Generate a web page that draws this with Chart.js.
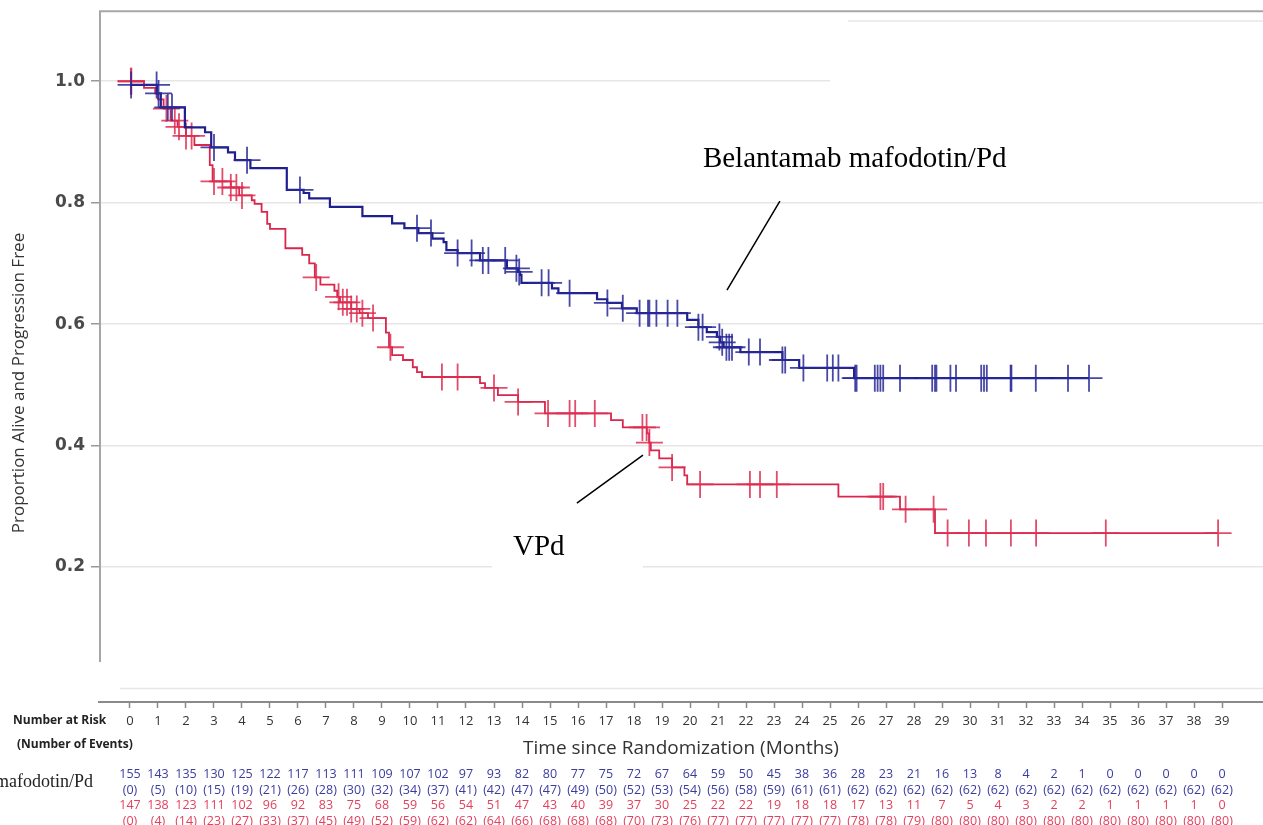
<!DOCTYPE html>
<html>
<head>
<meta charset="utf-8">
<title>Proportion Alive and Progression Free</title>
<script src="https://cdn.jsdelivr.net/npm/chart.js@4.4.1/dist/chart.umd.min.js"></script>
<style>
  html, body { margin: 0; padding: 0; background: #fff; }
  #wrap { width: 1263px; height: 825px; }
</style>
</head>
<body>
<div id="wrap"><canvas id="pfsChart" width="1263" height="825"></canvas></div>
<script>
// Kaplan-Meier steps: month of each step and the proportion after it (last entry = end of follow-up)
const blueStepT = [0, 0.96, 1.1, 1.96, 2.68, 2.9, 3.5, 3.75, 4.3, 5.6, 6.2, 6.4, 7.14, 8.3, 9.36, 9.8,
  10.3, 10.8, 11.2, 11.3, 11.7, 12.5, 13.46, 13.86, 13.93, 13.98, 15.07, 15.3, 16.68, 17.04, 17.57,
  18.1, 19.9, 20.3, 20.6, 20.96, 21.07, 21.2, 21.8, 23.3, 23.9, 25.86, 34.25];
const blueStepS = [0.994, 0.98, 0.957, 0.924, 0.916, 0.891, 0.883, 0.870, 0.857, 0.821, 0.816, 0.807,
  0.793, 0.778, 0.766, 0.758, 0.750, 0.741, 0.735, 0.722, 0.717, 0.705, 0.692, 0.686, 0.681, 0.668,
  0.659, 0.651, 0.641, 0.635, 0.626, 0.618, 0.607, 0.595, 0.587, 0.579, 0.570, 0.562, 0.554, 0.541,
  0.528, 0.511, 0.511];
const blueCensorT = [0.04, 0.95, 1.02, 1.35, 1.5, 3.0, 4.18, 6.07, 10.25, 10.75, 11.7, 12.2, 12.6, 12.8,
  13.4, 13.8, 13.9, 14.7, 14.95, 15.7, 17.05, 17.6, 18.2, 18.5, 18.55, 18.8, 19.2, 19.55, 20.3, 20.45,
  21.05, 21.15, 21.3, 21.4, 21.5, 22.1, 22.5, 23.3, 23.4, 24.05, 24.9, 25.1, 25.3, 25.9, 25.95, 26.6,
  26.7, 26.8, 26.9, 27.5, 28.65, 28.75, 28.8, 29.3, 29.5, 30.4, 30.5, 30.6, 31.45, 31.48, 32.35, 33.5,
  34.25];

const redStepT = [0, 0.5, 0.9, 1.0, 1.2, 1.45, 1.7, 2.0, 2.3, 2.85, 2.95, 3.6, 3.9, 4.35, 4.45, 4.7, 4.9,
  5.0, 5.55, 6.15, 6.4, 6.6, 6.8, 7.3, 7.4, 7.5, 7.9, 8.2, 8.5, 9.14, 9.25, 9.36, 9.75, 10.1, 10.25,
  10.43, 12.5, 12.68, 13.14, 13.86, 14.82, 17.18, 17.6, 18.46, 18.54, 18.6, 18.9, 19.36, 19.8, 19.9,
  25.3, 27.5, 28.75, 38.86];
const redStepS = [1.0, 0.989, 0.980, 0.970, 0.955, 0.935, 0.925, 0.910, 0.895, 0.862, 0.835, 0.825,
  0.812, 0.804, 0.798, 0.785, 0.765, 0.757, 0.725, 0.714, 0.700, 0.677, 0.665, 0.655, 0.645, 0.636,
  0.625, 0.618, 0.610, 0.586, 0.562, 0.549, 0.541, 0.529, 0.521, 0.513, 0.503, 0.495, 0.483, 0.472,
  0.453, 0.442, 0.430, 0.420, 0.405, 0.392, 0.379, 0.364, 0.351, 0.336, 0.316, 0.295, 0.256, 0.256];
const redCensorT = [0.03, 0.05, 1.3, 1.6, 1.75, 2.0, 2.2, 3.0, 3.3, 3.6, 3.8, 4.0, 6.65, 7.45, 7.6, 7.75,
  7.9, 8.1, 8.3, 8.68, 9.3, 11.14, 11.7, 13.0, 13.86, 14.93, 15.7, 15.9, 16.6, 18.3, 18.45, 18.55,
  19.36, 20.36, 22.14, 22.5, 23.1, 26.8, 26.9, 27.7, 28.7, 29.2, 29.96, 30.57, 31.46, 32.36, 34.85,
  38.86];

const monthTicks = [0, 1, 2, 3, 4, 5, 6, 7, 8, 9, 10, 11, 12, 13, 14, 15, 16, 17, 18, 19, 20, 21, 22, 23,
  24, 25, 26, 27, 28, 29, 30, 31, 32, 33, 34, 35, 36, 37, 38, 39];
const yTicks = [0, 0.2, 0.4, 0.6, 0.8, 1.0];

// number at risk / cumulative events at each month tick
const blueAtRisk = [155, 143, 135, 130, 125, 122, 117, 113, 111, 109, 107, 102, 97, 93, 82, 80, 77, 75, 72,
  67, 64, 59, 50, 45, 38, 36, 28, 23, 21, 16, 13, 8, 4, 2, 1, 0, 0, 0, 0, 0];
const blueEvents = [0, 5, 10, 15, 19, 21, 26, 28, 30, 32, 34, 37, 41, 42, 47, 47, 49, 50, 52, 53, 54, 56,
  58, 59, 61, 61, 62, 62, 62, 62, 62, 62, 62, 62, 62, 62, 62, 62, 62, 62];
const redAtRisk = [147, 138, 123, 111, 102, 96, 92, 83, 75, 68, 59, 56, 54, 51, 47, 43, 40, 39, 37, 30, 25,
  22, 22, 19, 18, 18, 17, 13, 11, 7, 5, 4, 3, 2, 2, 1, 1, 1, 1, 0];
const redEvents = [0, 4, 14, 23, 27, 33, 37, 45, 49, 52, 59, 62, 62, 64, 66, 68, 68, 68, 70, 73, 76, 77,
  77, 77, 77, 77, 78, 78, 79, 80, 80, 80, 80, 80, 80, 80, 80, 80, 80, 80];

const BLUE = '#1f1f8e';
const RED = '#d9264d';

// level of a step curve at month t (censor marks sit on the curve)
function levelAt(stepT, stepS, t) {
  let s = stepS[0];
  for (let i = 0; i < stepT.length; i++) {
    if (stepT[i] <= t) s = stepS[i];
  }
  return s;
}

const toPoints = (ts, ss) => ts.map((t, i) => ({ x: t, y: ss[i] }));
const censorPoints = (ts, stepT, stepS) => ts.map(t => ({ x: t, y: levelAt(stepT, stepS, t) }));

const decor = {
  id: 'decor',
  beforeDatasetsDraw(chart) {
    const { ctx, chartArea: area, scales: { x, y } } = chart;
    ctx.save();
    // white patches behind the curve labels, they cut into the gridlines
    ctx.fillStyle = '#ffffff';
    let x0 = x.getPixelForValue(25.0);
    ctx.fillRect(x0, y.getPixelForValue(1.10), area.right - x0, y.getPixelForValue(0.82) - y.getPixelForValue(1.10));
    x0 = x.getPixelForValue(12.93);
    ctx.fillRect(x0, y.getPixelForValue(0.297), x.getPixelForValue(18.32) - x0,
      y.getPixelForValue(0.178) - y.getPixelForValue(0.297));

    ctx.lineWidth = 1.5;
    ctx.strokeStyle = '#e6e6e6';
    ctx.beginPath();
    ctx.moveTo(x.getPixelForValue(25.64), y.getPixelForValue(1.099));
    ctx.lineTo(area.right, y.getPixelForValue(1.099));
    // zero line
    ctx.moveTo(x.getPixelForValue(-0.36), y.getPixelForValue(0));
    ctx.lineTo(area.right, y.getPixelForValue(0));
    ctx.stroke();

    // frame: top edge and the y axis line
    ctx.strokeStyle = '#a6a6a6';
    ctx.lineWidth = 2;
    ctx.beginPath();
    ctx.moveTo(area.left, area.top + 1);
    ctx.lineTo(area.right, area.top + 1);
    ctx.moveTo(area.left + 1, area.top);
    ctx.lineTo(area.left + 1, y.getPixelForValue(0.0436));
    ctx.stroke();
    ctx.restore();
  },
  afterDraw(chart) {
    const { ctx, scales: { x, y } } = chart;
    ctx.save();

    // y axis title
    ctx.fillStyle = '#333';
    ctx.font = "17px 'Open Sans'";
    ctx.textAlign = 'center';
    ctx.textBaseline = 'middle';
    ctx.translate(19, 383);
    ctx.rotate(-Math.PI / 2);
    ctx.fillText('Proportion Alive and Progression Free', 0, 0);
    ctx.setTransform(1, 0, 0, 1, 0, 0);

    // curve labels with pointer lines
    ctx.fillStyle = '#000';
    ctx.strokeStyle = '#000';
    ctx.lineWidth = 1.5;
    ctx.font = "29px 'Liberation Serif'";
    ctx.textAlign = 'left';
    ctx.textBaseline = 'alphabetic';
    ctx.fillText('Belantamab mafodotin/Pd', x.getPixelForValue(20.46), y.getPixelForValue(0.858));
    ctx.fillText('VPd', x.getPixelForValue(13.68), y.getPixelForValue(0.2198));
    ctx.beginPath();
    ctx.moveTo(x.getPixelForValue(23.21), y.getPixelForValue(0.8025));
    ctx.lineTo(x.getPixelForValue(21.32), y.getPixelForValue(0.656));
    ctx.moveTo(x.getPixelForValue(15.96), y.getPixelForValue(0.3053));
    ctx.lineTo(x.getPixelForValue(18.32), y.getPixelForValue(0.3844));
    ctx.stroke();

    // number at risk table
    ctx.fillStyle = '#222';
    ctx.font = "bold 12px 'Open Sans'";
    ctx.textBaseline = 'middle';
    ctx.fillText('Number at Risk', 13, 721);
    ctx.fillText('(Number of Events)', 17, 745);

    ctx.font = "18px 'Liberation Serif'";
    ctx.textAlign = 'right';
    ctx.fillText('Belantamab mafodotin/Pd', 93, 782);

    ctx.font = "12.5px 'Open Sans'";
    ctx.textAlign = 'center';
    monthTicks.forEach((m, i) => {
      const px = x.getPixelForValue(m);
      ctx.fillStyle = '#3b3ba0';
      ctx.fillText(String(blueAtRisk[i]), px, 774);
      ctx.fillText('(' + blueEvents[i] + ')', px, 790);
      ctx.fillStyle = '#e3405e';
      ctx.fillText(String(redAtRisk[i]), px, 805);
      ctx.fillText('(' + redEvents[i] + ')', px, 821);
    });
    ctx.restore();
  }
};

Chart.defaults.font.family = "'Open Sans', sans-serif";

new Chart(document.getElementById('pfsChart'), {
  type: 'line',
  data: {
    datasets: [
      {
        label: 'Belantamab mafodotin/Pd',
        data: toPoints(blueStepT, blueStepS),
        stepped: true,
        borderColor: BLUE,
        borderWidth: 2.2,
        pointRadius: 0,
        fill: false,
        order: 1
      },
      {
        label: 'Belantamab mafodotin/Pd censored',
        data: censorPoints(blueCensorT, blueStepT, blueStepS),
        showLine: false,
        pointStyle: 'cross',
        pointRadius: 13.5,
        pointBorderWidth: 1.8,
        pointBorderColor: 'rgba(40,40,150,0.85)',
        order: 0
      },
      {
        label: 'VPd',
        data: toPoints(redStepT, redStepS),
        stepped: true,
        borderColor: RED,
        borderWidth: 1.8,
        pointRadius: 0,
        fill: false,
        order: 3
      },
      {
        label: 'VPd censored',
        data: censorPoints(redCensorT, redStepT, redStepS),
        showLine: false,
        pointStyle: 'cross',
        pointRadius: 13.5,
        pointBorderWidth: 1.8,
        pointBorderColor: 'rgba(222,45,80,0.85)',
        order: 2
      }
    ]
  },
  options: {
    responsive: false,
    animation: false,
    events: [],
    layout: { autoPadding: false, padding: { top: 10, left: 0, right: 0, bottom: 0 } },
    plugins: {
      legend: { display: false },
      tooltip: { enabled: false }
    },
    scales: {
      x: {
        type: 'linear',
        min: -1.107,
        max: 40.464,
        afterBuildTicks: (scale) => { scale.ticks = monthTicks.map(v => ({ value: v })); },
        afterFit: (scale) => { scale.height = 123; },
        grid: {
          drawOnChartArea: false,
          tickLength: 6,
          tickColor: '#8a8a8a',
          tickWidth: 1.5
        },
        border: { display: true, color: '#8a8a8a', width: 2 },
        ticks: {
          color: '#333',
          font: { size: 13 },
          padding: 5,
          maxRotation: 0,
          autoSkip: false,
          callback: (v) => String(v)
        },
        title: {
          display: true,
          text: 'Time since Randomization (Months)',
          color: '#333',
          font: { size: 19 },
          padding: { top: 4, bottom: 65 }
        }
      },
      y: {
        min: -0.0222,
        max: 1.1169,
        afterBuildTicks: (scale) => { scale.ticks = yTicks.map(v => ({ value: v })); },
        afterFit: (scale) => { scale.width = 99; },
        grid: {
          color: (c) => (c.tick && c.tick.value === 0 ? 'rgba(0,0,0,0)' : '#e6e6e6'),
          lineWidth: 1.5,
          tickLength: 8,
          tickColor: (c) => (c.tick && c.tick.value === 0 ? 'rgba(0,0,0,0)' : '#999'),
          tickWidth: 1.5
        },
        border: { display: false },
        ticks: {
          color: '#4a4a4a',
          font: { family: "'DejaVu Sans'", size: 17, weight: 'bold', lineHeight: 0.5 },
          padding: 6,
          callback: (v) => (v === 0 ? '' : v.toFixed(1))
        }
      }
    }
  },
  plugins: [decor]
});
</script>
</body>
</html>
